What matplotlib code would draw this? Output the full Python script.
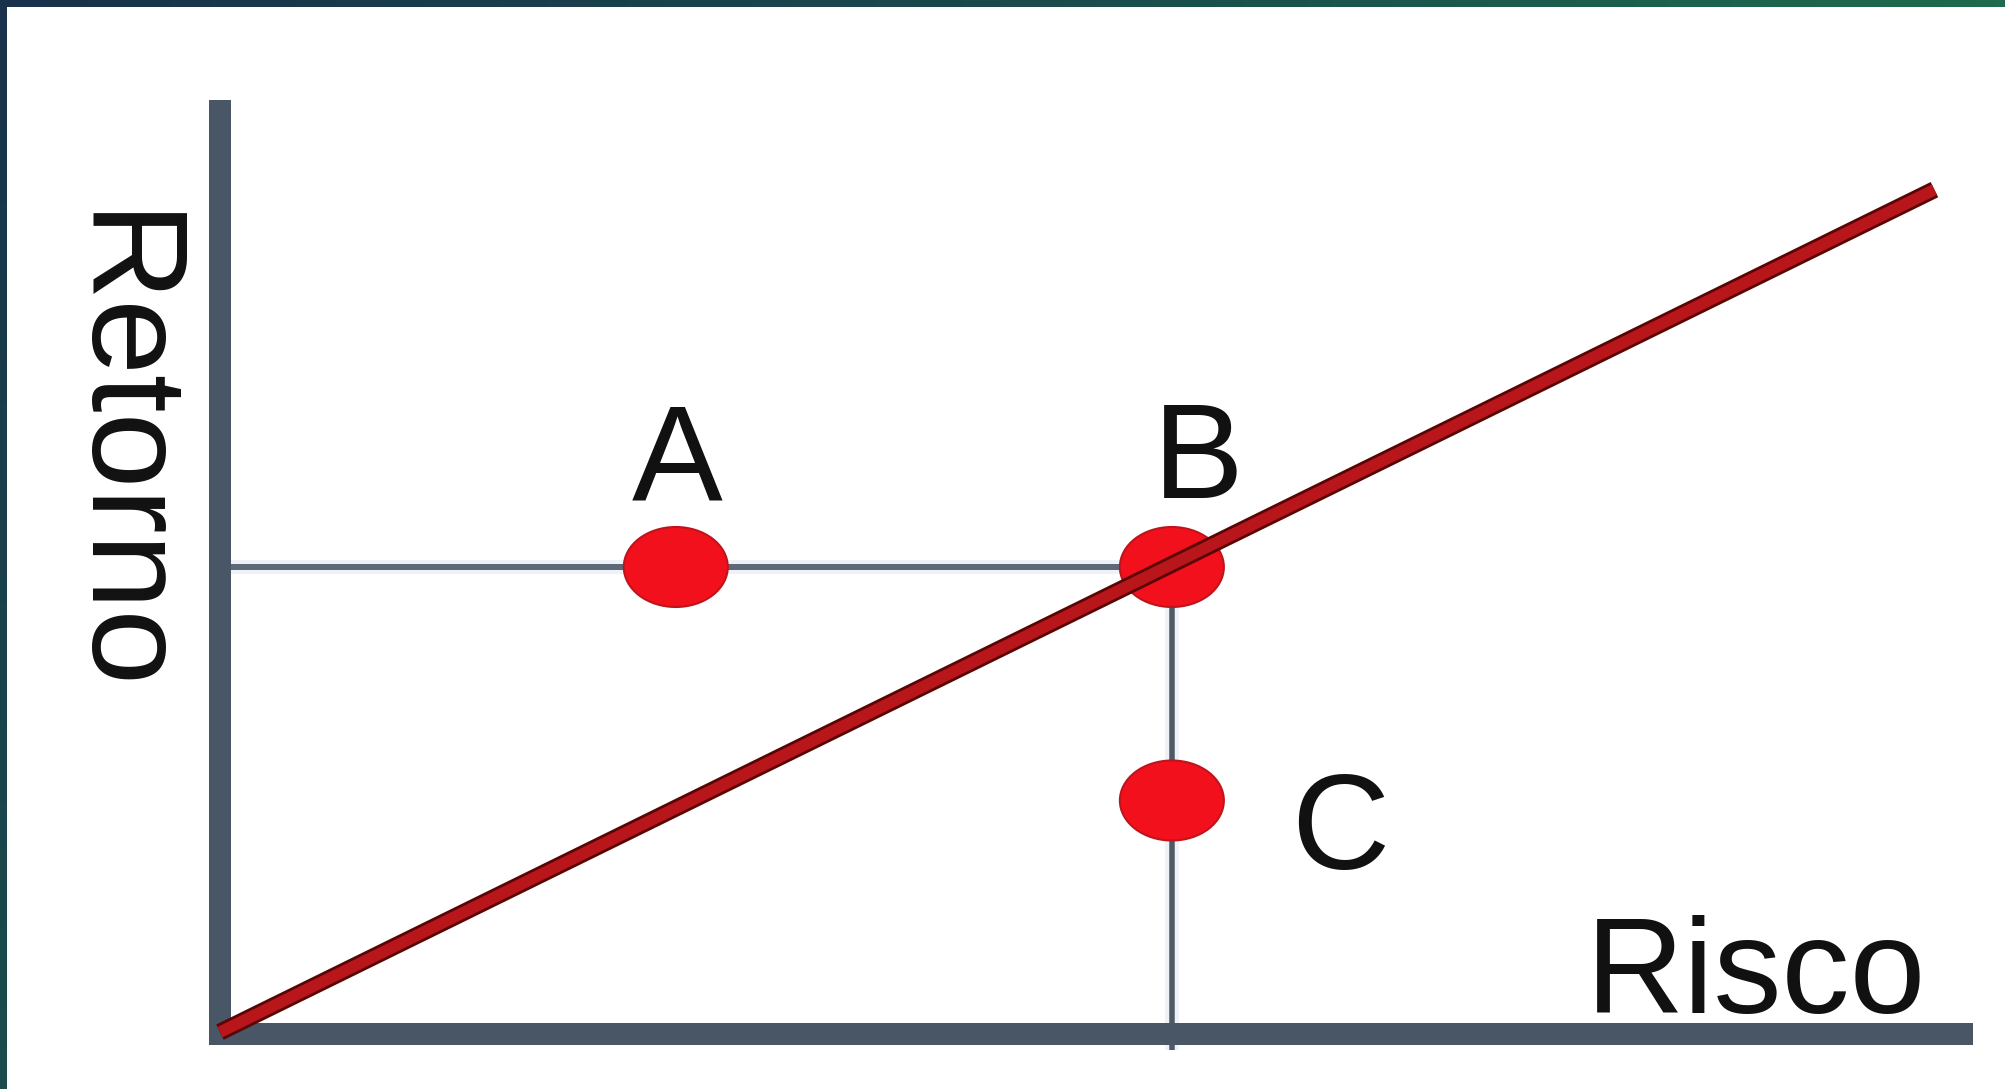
import numpy as np
import matplotlib
import matplotlib.pyplot as plt
import matplotlib.patheffects as pe
from matplotlib.patches import Ellipse
from matplotlib.colors import LinearSegmentedColormap

matplotlib.use("Agg")

# pontos do diagrama risco x retorno
pontos_nome = ["A", "B", "C"]
pontos_risco = [2.6, 5.43, 5.43]
pontos_retorno = [5.0, 5.0, 2.5]

# reta (linha do mercado)
reta_risco = [0.0, 9.78]
reta_retorno = [0.02, 9.04]

W, H, DPI = 2005, 1089, 100
fig = plt.figure(figsize=(W / DPI, H / DPI), dpi=DPI)
fig.patch.set_facecolor("white")

# eixos principais (area do grafico em pixels)
esq, base, larg, alt = 220, 1034, 1742, 934
ax = fig.add_axes([esq / W, (H - base) / H, larg / W, alt / H])
ax.set_xlim(0, 10 * larg / 1753)
ax.set_ylim(0, 10)
ax.set_facecolor("none")
ax.set_xticks([])
ax.set_yticks([])
cor_eixo = "#485666"
for s in ["top", "right"]:
    ax.spines[s].set_visible(False)
for s in ["left", "bottom"]:
    ax.spines[s].set_linewidth(22 * 72 / DPI)
    ax.spines[s].set_color(cor_eixo)
ax.spines["left"].set_capstyle("butt")
ax.spines["bottom"].set_capstyle("projecting")

# linhas de referencia A-B e B-C (com leve halo)
xb, yb = pontos_risco[1], pontos_retorno[1]
halo = [pe.Stroke(linewidth=14 * 72 / DPI, foreground="#eef1f6"), pe.Normal()]
ax.plot([0, xb], [yb, yb], color="#5d6978", lw=6 * 72 / DPI, zorder=2,
        solid_capstyle="butt", path_effects=halo)
ax.plot([xb, xb], [yb, -0.17], color="#4f5965", lw=5.5 * 72 / DPI, zorder=2,
        solid_capstyle="butt", clip_on=False, path_effects=halo)

# marcadores elipticos
px_x = 1753 / 10
px_y = 934 / 10
for nx, ny in zip(pontos_risco, pontos_retorno):
    e = Ellipse((nx, ny), 104 / px_x, 80 / px_y, facecolor="#f2101c",
                edgecolor="#c0141c", lw=1.5, zorder=3)
    ax.add_patch(e)

# reta vermelha com contorno escuro
ax.plot(reta_risco, reta_retorno, color="#b8161a", lw=11.5 * 72 / DPI,
        solid_capstyle="butt", zorder=4, clip_on=False,
        path_effects=[pe.Stroke(linewidth=17 * 72 / DPI, foreground="#5a0505",
                                capstyle="butt"),
                      pe.Normal()])

# rotulos
fs = 98
fam = ["Liberation Sans", "DejaVu Sans"]
ax.text(2.61, 5.72, pontos_nome[0], fontsize=fs, family=fam, ha="center",
        va="baseline", color="#111111", zorder=5)
ax.text(5.58, 5.74, pontos_nome[1], fontsize=fs, family=fam, ha="center",
        va="baseline", color="#111111", zorder=5)
ax.text(6.39, 1.77, pontos_nome[2], fontsize=fs, family=fam, ha="center",
        va="baseline", color="#111111", zorder=5)
ax.text(8.76, 0.225, "Risco", fontsize=fs, family=fam, ha="center",
        va="baseline", color="#111111", zorder=5)
fig.text(116 / W, (H - 454) / H, "Retorno", fontsize=fs, family=fam,
         rotation=-90, ha="center", va="center", color="#111111")

# moldura com degrade (topo e esquerda)
topo = fig.add_axes([0, 1 - 7 / H, 1, 7 / H])
cm_topo = LinearSegmentedColormap.from_list("topo", ["#17324a", "#1a4a4c", "#1e6b4e"])
topo.imshow(np.linspace(0, 1, 256)[None, :], aspect="auto", cmap=cm_topo)
topo.axis("off")
lado = fig.add_axes([0, 0, 7 / W, 1])
cm_lado = LinearSegmentedColormap.from_list("lado", ["#17324a", "#1a4d4a"])
lado.imshow(np.linspace(0, 1, 256)[:, None], aspect="auto", cmap=cm_lado)
lado.axis("off")

fig.savefig("out.png", dpi=DPI)
plt.close(fig)
